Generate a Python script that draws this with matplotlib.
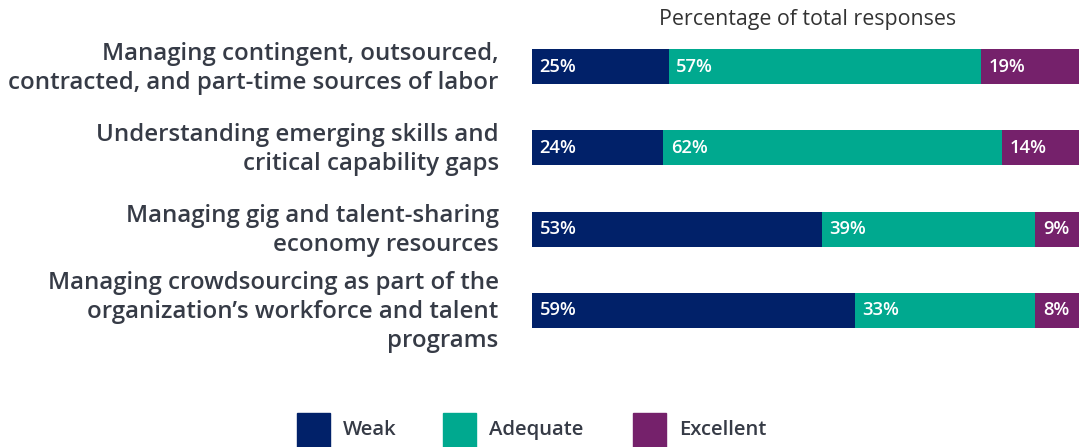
import matplotlib.pyplot as plt
from matplotlib.patches import Rectangle

# survey data (percent of responses)
categories = [
    "Managing contingent, outsourced,\ncontracted, and part-time sources of labor",
    "Understanding emerging skills and\ncritical capability gaps",
    "Managing gig and talent-sharing\neconomy resources",
    "Managing crowdsourcing as part of the\norganization\u2019s workforce and talent\nprograms",
]
weak = [25, 24, 53, 59]
adequate = [57, 62, 39, 33]
excellent = [19, 14, 9, 8]
series_names = ["Weak", "Adequate", "Excellent"]
colors = ["#012169", "#00A98F", "#75216B"]
text_col = "#363b46"

plt.rcParams['font.family'] = ['Open Sans', 'DejaVu Sans']

W, H = 1079, 447
fig = plt.figure(figsize=(W / 100, H / 100), dpi=100)

# axes in pixel coords: left 532, right 1079, top 26, bottom 351
top, bot = 26, 351
ax = fig.add_axes([532 / W, 1 - bot / H, 547 / W, (bot - top) / H])
ax.set_xlim(0, 100)
ax.set_ylim(3.5, -0.5)
ax.axis('off')

ypos = range(len(categories))
left = [0] * len(categories)
for vals, name, c in zip([weak, adequate, excellent], series_names, colors):
    bars = ax.barh(ypos, vals, left=left, height=0.43, color=c, label=name)
    for y, l, v in zip(ypos, left, vals):
        ax.text(l + 1.4, y, f"{v}%", color="white", fontsize=13.2,
                fontweight="semibold", va="center", ha="left")
    left = [a + b for a, b in zip(left, vals)]

# category labels
for y, cat in zip(ypos, categories):
    ax.text(-6.1, y + 0.02, cat, ha="right", va="center", fontsize=17.3,
            fontweight="semibold", color=text_col, linespacing=1.3,
            clip_on=False)

fig.text(808 / W, 1 - 20 / H, "Percentage of total responses", ha="center",
         va="center", fontsize=15.4, color="#333333")

# legend
leg_x = [297, 443, 633]
for x, name, c in zip(leg_x, series_names, colors):
    fig.patches.append(Rectangle((x / W, 0), 33 / W, 34 / H, color=c,
                                 transform=fig.transFigure))
    fig.text((x + 46) / W, 1 - 430 / H, name, ha="left", va="center",
             fontsize=14.6, fontweight="semibold", color=text_col)

fig.savefig("out.png", dpi=100)
